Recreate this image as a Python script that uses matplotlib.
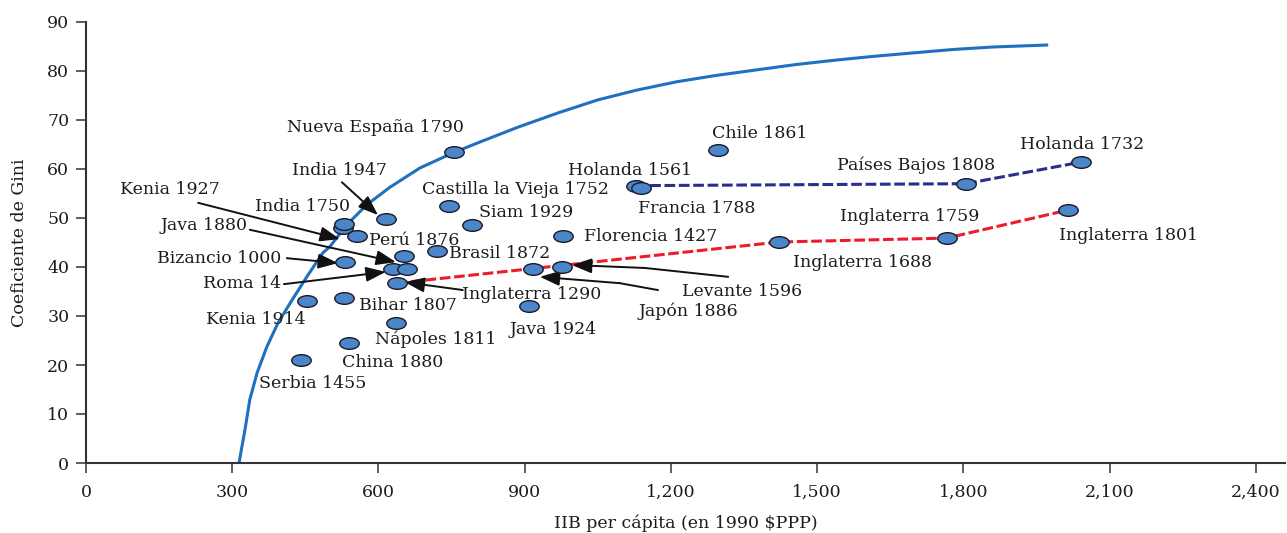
import matplotlib
matplotlib.use("Agg")
import matplotlib.pyplot as plt
from matplotlib.path import Path
from matplotlib.ticker import FuncFormatter
import numpy as np

# Frontera de posibilidades de desigualdad
frontera_x = [314, 320, 326, 336, 351, 371, 394, 423, 453, 486, 500, 535, 576, 624,
              685, 753, 808, 888, 970, 1050, 1130, 1212, 1293, 1374, 1455, 1536,
              1617, 1698, 1780, 1861, 1971]
frontera_y = [0.0, 3.4, 6.7, 12.9, 18.4, 23.7, 28.6, 33.3, 38.0, 42.9, 44.1, 48.6,
              52.7, 56.3, 60.2, 63.3, 65.5, 68.6, 71.5, 74.1, 76.1, 77.8, 79.1,
              80.2, 81.3, 82.2, 83.0, 83.7, 84.4, 84.9, 85.3]

# Sociedades preindustriales
nombres = ["Kenia 1927", "Nueva España 1790", "Chile 1861", "Holanda 1561",
           "Francia 1788", "Países Bajos 1808", "Holanda 1732", "Inglaterra 1801",
           "Inglaterra 1759", "Inglaterra 1688", "Inglaterra 1290", "Florencia 1427",
           "Levante 1596", "Japón 1886", "Java 1924", "Siam 1929",
           "Castilla la Vieja 1752", "Brasil 1872", "India 1947", "India 1750",
           "Perú 1876", "Bizancio 1000", "Java 1880", "Roma 14", "sin etiqueta",
           "Kenia 1914", "Bihar 1807", "Nápoles 1811", "China 1880", "Serbia 1455"]
iib = [527, 755, 1296, 1128, 1138, 1805, 2041, 2014, 1766, 1422, 638, 978,
       976, 917, 909, 792, 745, 720, 615, 529, 556, 531, 652, 630, 658,
       453, 529, 636, 539, 441]
gini = [48.0, 63.5, 63.9, 56.6, 56.1, 57.0, 61.4, 51.6, 45.9, 45.1, 36.7, 46.3,
        40.0, 39.6, 32.0, 48.6, 52.4, 43.3, 49.8, 48.8, 46.3, 41.0, 42.2, 39.6,
        39.6, 33.1, 33.7, 28.6, 24.5, 21.0]

serie_holanda = ["Holanda 1561", "Países Bajos 1808", "Holanda 1732"]
serie_inglaterra = ["Inglaterra 1290", "Inglaterra 1688", "Inglaterra 1759", "Inglaterra 1801"]

# Etiquetas: texto, posicion (centro) en coordenadas de datos
etiquetas = [
    ("Nueva España 1790", 593, 68.4), ("India 1947", 521, 59.6),
    ("Kenia 1927", 172, 55.9), ("India 1750", 445, 52.4),
    ("Castilla la Vieja 1752", 882, 55.9), ("Holanda 1561", 1116, 59.6),
    ("Chile 1861", 1383, 67.3), ("Países Bajos 1808", 1703, 60.8),
    ("Holanda 1732", 2043, 64.9), ("Francia 1788", 1253, 52.0),
    ("Siam 1929", 903, 51.2), ("Java 1880", 242, 48.4),
    ("Perú 1876", 673, 45.5), ("Florencia 1427", 1159, 46.3),
    ("Inglaterra 1759", 1690, 50.4), ("Inglaterra 1688", 1594, 41.0),
    ("Inglaterra 1801", 2139, 46.5), ("Brasil 1872", 849, 42.7),
    ("Bizancio 1000", 273, 41.8), ("Roma 14", 320, 36.7),
    ("Inglaterra 1290", 915, 34.3), ("Levante 1596", 1346, 34.9),
    ("Japón 1886", 1235, 31.0), ("Bihar 1807", 660, 32.2),
    ("Kenia 1914", 349, 29.2), ("Java 1924", 958, 27.3),
    ("Nápoles 1811", 718, 25.3), ("China 1880", 630, 20.6),
    ("Serbia 1455", 466, 16.3),
]

# Flechas: lista de vertices, el ultimo es la punta
flechas = [
    [(230, 53.1), (521, 45.7)],
    [(525, 57.3), (599, 50.6)],
    [(336, 47.6), (636, 41.0)],
    [(412, 41.8), (517, 40.8)],
    [(406, 36.5), (615, 39.0)],
    [(773, 35.3), (654, 36.9)],
    [(1173, 35.3), (1095, 36.7), (931, 38.0)],
    [(1317, 38.0), (1147, 39.8), (997, 40.4)],
]

plt.rcParams['font.family'] = ['DejaVu Serif']

fig = plt.figure(figsize=(12.87, 5.33), dpi=100)
ax = fig.add_axes([86 / 1287, 70 / 533, 1199 / 1287, 441 / 533])

# curva
ax.plot(frontera_x, frontera_y, color='#1f70c1', lw=2.2, zorder=2,
        solid_joinstyle='round')

idx = {n: i for i, n in enumerate(nombres)}
hx = [iib[idx[n]] for n in serie_holanda]
hy = [gini[idx[n]] for n in serie_holanda]
ax.plot(hx, hy, color='#2b2d8e', lw=2.2, ls=(0, (3.5, 1.2)), zorder=3)
ix = [iib[idx[n]] for n in serie_inglaterra]
iy = [gini[idx[n]] for n in serie_inglaterra]
ax.plot(ix, iy, color='#ec1c2b', lw=2.2, ls=(0, (3.5, 1.2)), zorder=3)

# marcador eliptico
circ = Path.unit_circle()
elipse = Path(circ.vertices * np.array([1.0, 0.6]), circ.codes)
ax.plot(iib, gini, ls='none', marker=elipse, markersize=14,
        markerfacecolor='#4a86c8', markeredgecolor='#1a1a2a', markeredgewidth=1.0,
        zorder=5)

for texto, tx, ty in etiquetas:
    ax.text(tx, ty, texto, fontsize=12.5, ha='center', va='center',
            color='#1c1c1c', zorder=6)

for verts in flechas:
    if len(verts) > 2:
        xs, ys = zip(*verts[:-1])
        ax.plot(xs, ys, color='#111111', lw=1.4, zorder=4)
    ax.annotate("", xy=verts[-1], xytext=verts[-2],
                arrowprops=dict(arrowstyle='-|>,head_length=0.8,head_width=0.3',
                                mutation_scale=15, color='#111111', lw=1.4,
                                shrinkA=0, shrinkB=0),
                zorder=4)

ax.set_xlim(0, 2460)
ax.set_ylim(0, 90)
ax.set_xticks(np.arange(0, 2401, 300))
ax.set_yticks(np.arange(0, 91, 10))
ax.xaxis.set_major_formatter(FuncFormatter(lambda v, p: f"{int(v):,}"))
for s in ['top', 'right']:
    ax.spines[s].set_visible(False)
for s in ['left', 'bottom']:
    ax.spines[s].set_color('#333333')
    ax.spines[s].set_linewidth(1.5)
ax.tick_params(direction='out', length=7, width=1.1, color='#333333',
               labelsize=12.5, labelcolor='#1c1c1c')
ax.tick_params(axis='x', pad=8)
ax.tick_params(axis='y', pad=5)
ax.set_xlabel("IIB per cápita (en 1990 $PPP)", fontsize=12.5, color='#1c1c1c', labelpad=10)
ax.set_ylabel("Coeficiente de Gini", fontsize=12.5, color='#1c1c1c', labelpad=14)

fig.savefig("out.png", dpi=100)
